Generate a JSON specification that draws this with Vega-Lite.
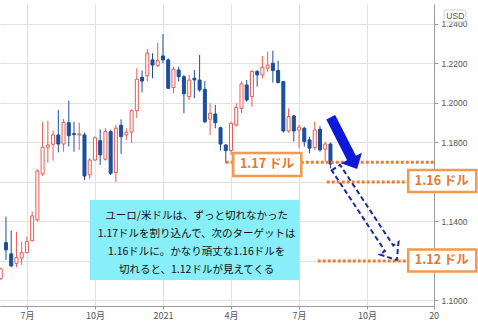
{
  "$schema": "https://vega.github.io/schema/vega-lite/v6.json",
  "width": 434,
  "height": 302,
  "autosize": {"type": "none"},
  "padding": {"left": 0, "top": 4, "right": 44, "bottom": 23},
  "background": "white",
  "config": {"view": {"stroke": null}, "font": "Liberation Sans"},
  "datasets": {
    "candles": [
      {"d":"2020-06-01","o":1.1110,"h":1.1165,"l":1.1105,"c":1.1160},
      {"d":"2020-06-08","o":1.1293,"h":1.1424,"l":1.1205,"c":1.1256},
      {"d":"2020-06-15","o":1.1236,"h":1.1354,"l":1.1168,"c":1.1175},
      {"d":"2020-06-22","o":1.1188,"h":1.1348,"l":1.1168,"c":1.1217},
      {"d":"2020-06-29","o":1.1214,"h":1.1298,"l":1.1180,"c":1.1242},
      {"d":"2020-07-06","o":1.1242,"h":1.1323,"l":1.1239,"c":1.1298},
      {"d":"2020-07-13","o":1.1303,"h":1.1450,"l":1.1299,"c":1.1428},
      {"d":"2020-07-20","o":1.1408,"h":1.1665,"l":1.1400,"c":1.1656},
      {"d":"2020-07-27","o":1.1641,"h":1.1905,"l":1.1630,"c":1.1776},
      {"d":"2020-08-03","o":1.1776,"h":1.1910,"l":1.1698,"c":1.1787},
      {"d":"2020-08-10","o":1.1791,"h":1.1860,"l":1.1708,"c":1.1838},
      {"d":"2020-08-17","o":1.1838,"h":1.1965,"l":1.1750,"c":1.1792},
      {"d":"2020-08-24","o":1.1792,"h":1.1919,"l":1.1753,"c":1.1902},
      {"d":"2020-08-31","o":1.1900,"h":1.2012,"l":1.1779,"c":1.1834},
      {"d":"2020-09-07","o":1.1845,"h":1.1905,"l":1.1753,"c":1.1840},
      {"d":"2020-09-14","o":1.1838,"h":1.1900,"l":1.1762,"c":1.1843},
      {"d":"2020-09-21","o":1.1838,"h":1.1850,"l":1.1610,"c":1.1630},
      {"d":"2020-09-28","o":1.1636,"h":1.1720,"l":1.1614,"c":1.1711},
      {"d":"2020-10-05","o":1.1711,"h":1.1830,"l":1.1706,"c":1.1824},
      {"d":"2020-10-12","o":1.1809,"h":1.1867,"l":1.1686,"c":1.1737},
      {"d":"2020-10-19","o":1.1715,"h":1.1872,"l":1.1708,"c":1.1855},
      {"d":"2020-10-26","o":1.1855,"h":1.1865,"l":1.1635,"c":1.1644},
      {"d":"2020-11-02","o":1.1647,"h":1.1889,"l":1.1600,"c":1.1872},
      {"d":"2020-11-09","o":1.1887,"h":1.1917,"l":1.1742,"c":1.1829},
      {"d":"2020-11-16","o":1.1838,"h":1.1872,"l":1.1813,"c":1.1852},
      {"d":"2020-11-23","o":1.1852,"h":1.1968,"l":1.1796,"c":1.1961},
      {"d":"2020-11-30","o":1.1961,"h":1.2176,"l":1.1923,"c":1.2120},
      {"d":"2020-12-07","o":1.2130,"h":1.2164,"l":1.2054,"c":1.2111},
      {"d":"2020-12-14","o":1.2138,"h":1.2272,"l":1.2111,"c":1.2252},
      {"d":"2020-12-21","o":1.2218,"h":1.2252,"l":1.2125,"c":1.2192},
      {"d":"2020-12-28","o":1.2189,"h":1.2305,"l":1.2181,"c":1.2214},
      {"d":"2021-01-04","o":1.2238,"h":1.2349,"l":1.2201,"c":1.2218},
      {"d":"2021-01-11","o":1.2218,"h":1.2226,"l":1.2071,"c":1.2074},
      {"d":"2021-01-18","o":1.2078,"h":1.2184,"l":1.2049,"c":1.2171},
      {"d":"2021-01-25","o":1.2167,"h":1.2184,"l":1.2108,"c":1.2133},
      {"d":"2021-02-01","o":1.2133,"h":1.2142,"l":1.1948,"c":1.2046},
      {"d":"2021-02-08","o":1.2032,"h":1.2142,"l":1.2015,"c":1.2116},
      {"d":"2021-02-15","o":1.2125,"h":1.2167,"l":1.2024,"c":1.2117},
      {"d":"2021-02-22","o":1.2116,"h":1.2243,"l":1.2057,"c":1.2066},
      {"d":"2021-03-01","o":1.2069,"h":1.2111,"l":1.1897,"c":1.1905},
      {"d":"2021-03-08","o":1.1918,"h":1.1998,"l":1.1838,"c":1.1948},
      {"d":"2021-03-15","o":1.1944,"h":1.1990,"l":1.1872,"c":1.1900},
      {"d":"2021-03-22","o":1.1875,"h":1.1880,"l":1.1759,"c":1.1792},
      {"d":"2021-03-29","o":1.1787,"h":1.1792,"l":1.1695,"c":1.1759},
      {"d":"2021-04-05","o":1.1759,"h":1.1905,"l":1.1737,"c":1.1897},
      {"d":"2021-04-12","o":1.1889,"h":1.1998,"l":1.1880,"c":1.1978},
      {"d":"2021-04-19","o":1.1973,"h":1.2108,"l":1.1948,"c":1.2096},
      {"d":"2021-04-26","o":1.2091,"h":1.2116,"l":1.2007,"c":1.2015},
      {"d":"2021-05-03","o":1.2032,"h":1.2167,"l":1.1981,"c":1.2159},
      {"d":"2021-05-10","o":1.2159,"h":1.2167,"l":1.2083,"c":1.2142},
      {"d":"2021-05-17","o":1.2142,"h":1.2238,"l":1.2125,"c":1.2181},
      {"d":"2021-05-24","o":1.2176,"h":1.2260,"l":1.2159,"c":1.2192},
      {"d":"2021-05-31","o":1.2201,"h":1.2265,"l":1.2103,"c":1.2164},
      {"d":"2021-06-07","o":1.2164,"h":1.2214,"l":1.2100,"c":1.2103},
      {"d":"2021-06-14","o":1.2108,"h":1.2111,"l":1.1850,"c":1.1858},
      {"d":"2021-06-21","o":1.1858,"h":1.1973,"l":1.1850,"c":1.1931},
      {"d":"2021-06-28","o":1.1934,"h":1.1939,"l":1.1804,"c":1.1858},
      {"d":"2021-07-05","o":1.1863,"h":1.1889,"l":1.1771,"c":1.1877},
      {"d":"2021-07-12","o":1.1872,"h":1.1880,"l":1.1779,"c":1.1804},
      {"d":"2021-07-19","o":1.1813,"h":1.1830,"l":1.1745,"c":1.1771},
      {"d":"2021-07-26","o":1.1774,"h":1.1905,"l":1.1762,"c":1.1863},
      {"d":"2021-08-02","o":1.1867,"h":1.1884,"l":1.1753,"c":1.1762},
      {"d":"2021-08-09","o":1.1766,"h":1.1804,"l":1.1703,"c":1.1792},
      {"d":"2021-08-16","o":1.1792,"h":1.1799,"l":1.1669,"c":1.1691}
    ],
    "levels": [
      {"d":"2021-03-29","d2":"2022-01-01","v":1.17},
      {"d":"2021-08-11","d2":"2021-12-31","v":1.16},
      {"d":"2021-07-30","d2":"2021-12-31","v":1.12}
    ],
    "boxes": [
      {"d":"2021-04-08","d2":"2021-07-08","v":1.17469,"v2":1.16304,"tx":"2021-05-23","tv":1.16887,"t":"1.17 ドル"},
      {"d":"2021-11-28","d2":"2022-02-27","v":1.16608,"v2":1.15494,"tx":"2022-01-12","tv":1.16051,"t":"1.16 ドル"},
      {"d":"2021-11-28","d2":"2022-02-27","v":1.12583,"v2":1.11469,"tx":"2022-01-12","tv":1.12026,"t":"1.12 ドル"}
    ],
    "note": [
      {"d":"2020-09-28","d2":"2021-07-06","v":1.15089,"v2":1.11039}
    ],
    "noteText": [
      {"d":"2021-02-18","v":1.14279,"t":"ユーロ/米ドルは、ずっと切れなかった"},
      {"d":"2021-02-18","v":1.13368,"t":"1.17ドルを割り込んで、次のターゲットは"},
      {"d":"2021-02-18","v":1.12456,"t":"1.16ドルに。かなり頑丈な1.16ドルを"},
      {"d":"2021-02-18","v":1.11545,"t":"切れると、1.12ドルが見えてくる"}
    ],
    "arrowSolid": [{"d":"2021-09-03","v":1.1797}],
    "arrowDashed": [{"d":"2021-10-03","v":1.1439}],
    "usd": [{"d":"2022-01-15","d2":"2022-02-13","v":1.24709,"v2":1.24101,"tx":"2022-01-30","tv":1.24405,"t":"USD"}]
  },
  "layer": [
    {
      "data": {"name": "candles"},
      "mark": {"type": "rule", "strokeWidth": 1, "clip": true},
      "encoding": {
        "x": {"field": "d", "type": "temporal",
              "scale": {"type": "utc", "domain": [{"year":2020,"month":5,"date":31,"utc":true},{"year":2022,"month":1,"date":1,"hours":12,"utc":true}], "nice": false, "padding": 0},
              "axis": {"orient": "bottom", "title": null,
                       "values": [{"year":2020,"month":7,"date":6,"utc":true},{"year":2020,"month":10,"date":5,"utc":true},{"year":2021,"month":1,"date":4,"utc":true},{"year":2021,"month":4,"date":5,"utc":true},{"year":2021,"month":7,"date":5,"utc":true},{"year":2021,"month":10,"date":4,"utc":true},{"year":2022,"month":1,"date":1,"utc":true}],
                       "labelExpr": "utcmonth(datum.value) == 0 ? (utcyear(datum.value) == 2021 ? '2021' : '20') : (utcmonth(datum.value) + 1) + '月'",
                       "grid": true, "gridColor": "#e2e2e2", "domainColor": "#9a9a9a", "tickColor": "#9a9a9a", "tickSize": 3,
                       "labelPadding": 2, "labelFontSize": 9, "labelColor": "#555555", "labelFont": "Noto Sans CJK JP", "labelFlush": false, "labelOverlap": false}},
        "y": {"field": "l", "type": "quantitative",
              "scale": {"domain": [1.0972, 1.2501], "nice": false, "zero": false, "padding": 0},
              "axis": {"orient": "right", "title": null, "values": [1.10,1.12,1.14,1.16,1.18,1.20,1.22,1.24], "format": ".4f",
                       "labelExpr": "abs(datum.value - 1.16) < 0.0001 || abs(datum.value - 1.12) < 0.0001 ? '' : datum.label",
                       "grid": true, "gridColor": "#e2e2e2", "domainColor": "#9a9a9a", "tickColor": "#9a9a9a", "tickSize": 4,
                       "labelPadding": 3, "labelFontSize": 8.5, "labelColor": "#555555", "labelFlush": false, "labelOverlap": false}},
        "y2": {"field": "h"},
        "color": {"condition": {"test": "datum.c >= datum.o", "value": "#ea5a50"}, "value": "#1b4e9c"}
      }
    },
    {
      "data": {"name": "candles"},
      "mark": {"type": "bar", "size": 3, "strokeWidth": 1, "clip": true},
      "encoding": {
        "x": {"field": "d", "type": "temporal"},
        "y": {"field": "o", "type": "quantitative"},
        "y2": {"field": "c"},
        "fill": {"condition": {"test": "datum.c >= datum.o", "value": "#ffffff"}, "value": "#1b4e9c"},
        "stroke": {"condition": {"test": "datum.c >= datum.o", "value": "#ea5a50"}, "value": "#1b4e9c"}
      }
    },
    {
      "data": {"name": "note"},
      "mark": {"type": "rect", "fill": "#88eef8", "clip": false},
      "encoding": {
        "x": {"field": "d", "type": "temporal"},
        "x2": {"field": "d2"},
        "y": {"field": "v", "type": "quantitative"},
        "y2": {"field": "v2"}
      }
    },
    {
      "data": {"name": "noteText"},
      "mark": {"type": "text", "font": "Noto Sans CJK JP", "fontSize": 10.5, "color": "#111111", "align": "center", "baseline": "middle", "clip": false},
      "encoding": {
        "x": {"field": "d", "type": "temporal"},
        "y": {"field": "v", "type": "quantitative"},
        "text": {"field": "t"}
      }
    },
    {
      "data": {"name": "levels"},
      "mark": {"type": "rule", "color": "#ed7d31", "strokeWidth": 3, "strokeDash": [3, 2], "clip": false},
      "encoding": {
        "x": {"field": "d", "type": "temporal"},
        "x2": {"field": "d2"},
        "y": {"field": "v", "type": "quantitative"}
      }
    },
    {
      "data": {"name": "boxes"},
      "mark": {"type": "rect", "fill": "#ffffff", "stroke": "#f29a4e", "strokeWidth": 2.5, "clip": false},
      "encoding": {
        "x": {"field": "d", "type": "temporal"},
        "x2": {"field": "d2"},
        "y": {"field": "v", "type": "quantitative"},
        "y2": {"field": "v2"}
      }
    },
    {
      "data": {"name": "boxes"},
      "mark": {"type": "text", "font": "Noto Sans CJK JP", "fontSize": 12.5, "fontWeight": "bold", "color": "#e8762c", "align": "center", "baseline": "middle", "clip": false},
      "encoding": {
        "x": {"field": "tx", "type": "temporal"},
        "y": {"field": "tv", "type": "quantitative"},
        "text": {"field": "t"}
      }
    },
    {
      "data": {"name": "arrowDashed"},
      "mark": {"type": "point", "shape": "M-0.09,-1L0.09,-1L0.09,0.747L0.204,0.747L0,1L-0.204,0.747L-0.09,0.747Z", "size": 12254, "angle": 326.6, "filled": false, "stroke": "#1c2aa3", "strokeWidth": 2, "strokeDash": [5, 3], "opacity": 1, "clip": false},
      "encoding": {
        "x": {"field": "d", "type": "temporal"},
        "y": {"field": "v", "type": "quantitative"}
      }
    },
    {
      "data": {"name": "arrowSolid"},
      "mark": {"type": "point", "shape": "M-0.1715,-1L0.1715,-1L0.1715,0.578L0.403,0.578L0,1L-0.403,0.578L-0.1715,0.578Z", "size": 3370, "angle": 333, "filled": true, "color": "#0d18d8", "strokeWidth": 0, "opacity": 1, "clip": false},
      "encoding": {
        "x": {"field": "d", "type": "temporal"},
        "y": {"field": "v", "type": "quantitative"}
      }
    },
    {
      "data": {"name": "usd"},
      "mark": {"type": "rect", "fill": "#ffffff", "stroke": "#cfcfcf", "strokeWidth": 1, "cornerRadius": 2, "clip": false},
      "encoding": {
        "x": {"field": "d", "type": "temporal"},
        "x2": {"field": "d2"},
        "y": {"field": "v", "type": "quantitative"},
        "y2": {"field": "v2"}
      }
    },
    {
      "data": {"name": "usd"},
      "mark": {"type": "text", "fontSize": 8.5, "color": "#555555", "align": "center", "baseline": "middle", "clip": false},
      "encoding": {
        "x": {"field": "tx", "type": "temporal"},
        "y": {"field": "tv", "type": "quantitative"},
        "text": {"field": "t"}
      }
    }
  ]
}
